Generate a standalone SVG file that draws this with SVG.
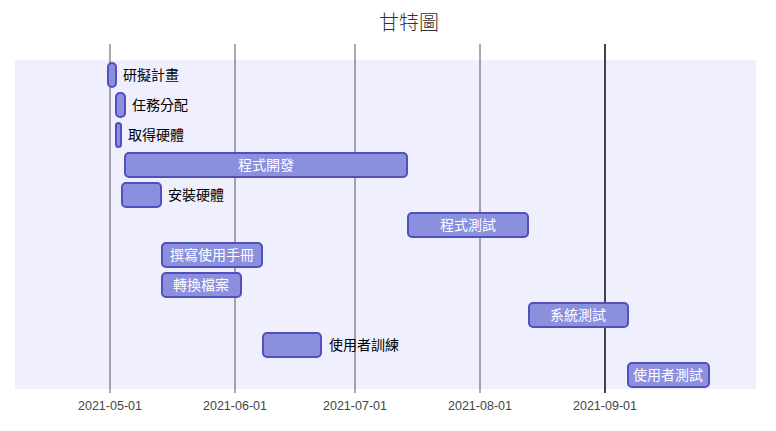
<svg xmlns="http://www.w3.org/2000/svg" width="776" height="431" viewBox="0 0 776 431">
<style>
.bg{fill:#ffffff}
.band{fill:#efeffd}
.grid{stroke:#555;stroke-width:1}
.task{fill:#8a90dd;stroke:#534fbc;stroke-width:2}
.tin{font-family:"Noto Sans CJK TC","Liberation Sans",sans-serif;font-size:14px;fill:#ffffff;text-anchor:middle}
.tout{font-family:"Noto Sans CJK TC","Liberation Sans",sans-serif;font-size:14px;fill:#000000;text-anchor:start}
.tick{font-family:"Liberation Sans",sans-serif;font-size:12.5px;fill:#444;text-anchor:middle}
.title{font-family:"Noto Sans CJK TC","Liberation Sans",sans-serif;font-size:20px;fill:#333;text-anchor:middle;font-weight:300}
</style>
<rect class="bg" x="0" y="0" width="776" height="431"/>
<text class="title" x="409" y="30">甘特圖</text>
<rect class="band" x="15" y="60" width="741" height="329"/>
<g id="grid">
<line class="grid" x1="110" y1="44" x2="110" y2="393"/>
<line class="grid" x1="235" y1="44" x2="235" y2="393"/>
<line class="grid" x1="355" y1="44" x2="355" y2="393"/>
<line class="grid" x1="480" y1="44" x2="480" y2="393"/>
<line class="grid" x1="605" y1="44" x2="605" y2="393" style="stroke:#444;stroke-width:2"/>
<text class="tick" x="110" y="410">2021-05-01</text>
<text class="tick" x="235" y="410">2021-06-01</text>
<text class="tick" x="355" y="410">2021-07-01</text>
<text class="tick" x="480" y="410">2021-08-01</text>
<text class="tick" x="605" y="410">2021-09-01</text>
</g>
<g id="t1"><rect class="task" x="108" y="63" width="8" height="24" rx="4"/><text class="tout" x="123" y="80">研擬計畫</text></g>
<g id="t2"><rect class="task" x="116" y="93" width="9" height="24" rx="4"/><text class="tout" x="132" y="110">任務分配</text></g>
<g id="t3"><rect class="task" x="116" y="123" width="5" height="24" rx="2.5"/><text class="tout" x="128" y="140">取得硬體</text></g>
<g id="t4"><rect class="task" x="125" y="153" width="282" height="24" rx="4"/><text class="tin" x="266" y="170">程式開發</text></g>
<g id="t5"><rect class="task" x="122" y="183" width="39" height="24" rx="4"/><text class="tout" x="168" y="200">安裝硬體</text></g>
<g id="t6"><rect class="task" x="408" y="213" width="120" height="24" rx="4"/><text class="tin" x="468" y="230">程式測試</text></g>
<g id="t7"><rect class="task" x="162" y="243" width="100" height="24" rx="4"/><text class="tin" x="212" y="260">撰寫使用手冊</text></g>
<g id="t8"><rect class="task" x="162" y="273" width="79" height="24" rx="4"/><text class="tin" x="201" y="290">轉換檔案</text></g>
<g id="t9"><rect class="task" x="529" y="303" width="99" height="24" rx="4"/><text class="tin" x="578" y="320">系統測試</text></g>
<g id="t10"><rect class="task" x="263" y="333" width="58" height="24" rx="4"/><text class="tout" x="329" y="350">使用者訓練</text></g>
<g id="t11"><rect class="task" x="628" y="363" width="81" height="24" rx="4"/><text class="tin" x="668" y="380">使用者測試</text></g>
</svg>
